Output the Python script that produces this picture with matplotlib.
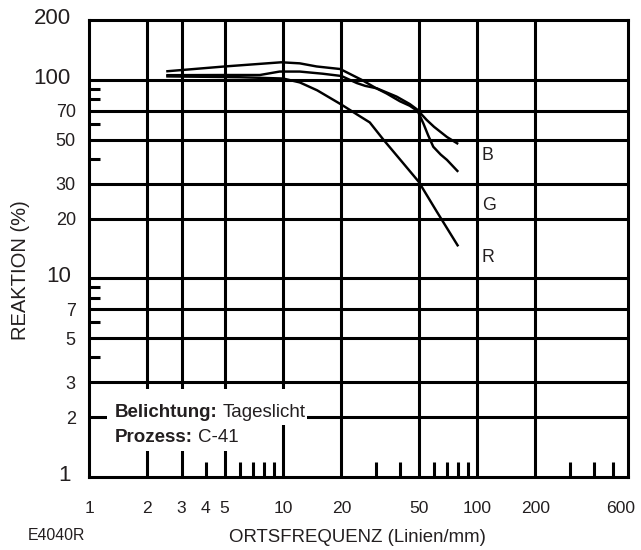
import matplotlib
matplotlib.use("Agg")
import matplotlib.pyplot as plt
from matplotlib.patches import Rectangle
from matplotlib.ticker import NullLocator
from matplotlib.transforms import ScaledTranslation

plt.rcParams['font.family'] = ['Liberation Sans', 'DejaVu Sans']

# ---- data ----
G_x = [2.5, 5, 9.8, 12.2, 14.9, 19.7, 25.4, 30, 34.2, 40, 45, 49.5, 53, 56, 59.5, 65, 70, 80]
G_y = [110.3, 116.7, 122.5, 121, 116.7, 113.3, 100, 91, 85.3, 78, 74, 69.5, 60, 52.5, 46, 42, 39.5, 34.4]

B_x = [2.5, 5, 7.6, 9.6, 12.2, 16, 20, 24, 26.5, 30.4, 38.5, 45, 49, 55, 60, 70, 80]
B_y = [105.5, 105.7, 105.7, 110, 110, 107.3, 104.5, 96.3, 93.2, 90.6, 82.3, 75.5, 71, 62.8, 58, 51.5, 47.5]

R_x = [2.5, 4, 6, 10, 12.2, 15, 20, 24, 28, 33, 41, 50, 62, 80]
R_y = [104, 103.5, 103, 101.5, 97, 88.5, 75, 67, 61, 49.8, 38.7, 30.7, 21.7, 14.5]

curve_names = ['B', 'G', 'R']
curve_label_pos = [(106, 41.8), (106, 23.2), (106, 12.7)]

x_ticklabels = [1, 2, 3, 4, 5, 10, 20, 50, 100, 200, 600]
x_minor_marks = [4, 6, 7, 8, 9, 30, 40, 60, 70, 80, 90, 300, 400, 500]
x_grid = [2, 3, 5, 10, 20, 50, 100, 200]

y_major_labels = [1, 10, 100, 200]
y_minor_labels = [2, 3, 5, 7, 20, 30, 50, 70]
y_minor_marks = [4, 6, 8, 9, 40, 60, 80, 90]
y_grid = [2, 3, 5, 7, 10, 20, 30, 50, 70, 100]

TXT = '#231f20'

fig = plt.figure(figsize=(6.41, 5.50), dpi=100)
ax = fig.add_axes([89/641, 1-477/550, (628-89)/641, (477-20)/550])
ax.set_xscale('log')
ax.set_yscale('log')
ax.set_xlim(1, 600)
ax.set_ylim(1, 200)

for s in ax.spines.values():
    s.set_linewidth(2.2)
    s.set_zorder(5)

# grid
for gx in x_grid:
    ax.axvline(gx, color='black', lw=2.2, zorder=1)
for gy in y_grid:
    ax.axhline(gy, color='black', lw=2.2, zorder=1)

# white box behind annotation text
ax.add_patch(Rectangle((1.238, 1.827), 13.30-1.238, 2.773-1.827,
                       facecolor='white', edgecolor='none', zorder=2))
ax.add_patch(Rectangle((1.238, 1.352), 6.0-1.238, 1.827-1.352,
                       facecolor='white', edgecolor='none', zorder=2))

# curves
for xs, ys in [(B_x, B_y), (G_x, G_y), (R_x, R_y)]:
    ax.plot(xs, ys, color='black', lw=1.75, zorder=3,
            solid_joinstyle='round', solid_capstyle='butt')

for name, (px, py) in zip(curve_names, curve_label_pos):
    ax.text(px, py, name, fontsize=12.8, color=TXT, ha='left', va='center', zorder=6)

# x tick labels
ax.set_xticks(x_ticklabels, [str(v) for v in x_ticklabels])
ax.xaxis.set_minor_locator(NullLocator())
ax.tick_params(axis='x', which='major', length=0, pad=17, labelsize=12.6, labelcolor=TXT)
left = ScaledTranslation(-7/100, 0, fig.dpi_scale_trans)
last = ax.xaxis.get_majorticklabels()[-1]
last.set_transform(last.get_transform() + left)

# y tick labels
ax.set_yticks(y_major_labels, [str(v) for v in y_major_labels])
ax.set_yticks(y_minor_labels, [str(v) for v in y_minor_labels], minor=True)
ax.tick_params(axis='y', which='major', length=0, pad=13.2, labelsize=16, labelcolor=TXT)
ax.tick_params(axis='y', which='minor', length=0, pad=9.5, labelsize=13, labelcolor=TXT)
up = ScaledTranslation(0, 4/100, fig.dpi_scale_trans)
for lab in ax.yaxis.get_majorticklabels():
    lab.set_transform(lab.get_transform() + up)

# short inward tick marks
secx = ax.secondary_xaxis('bottom')
secx.set_xticks(x_minor_marks, ['' for _ in x_minor_marks])
secx.xaxis.set_minor_locator(NullLocator())
secx.tick_params(direction='in', length=10.8, width=2.2, color='black')
secx.spines['bottom'].set_visible(False)

secy = ax.secondary_yaxis('left')
secy.set_yticks(y_minor_marks, ['' for _ in y_minor_marks])
secy.yaxis.set_minor_locator(NullLocator())
secy.tick_params(direction='in', length=7.9, width=2.2, color='black')
secy.spines['left'].set_visible(False)

# annotation text
t1 = ax.text(1.36, 2.0, 'Belichtung:', fontsize=13.5, fontweight='bold', color=TXT,
             ha='left', va='baseline', zorder=6)
ax.annotate('Tageslicht', xy=(1, 0), xycoords=t1, xytext=(3.4, 0),
            textcoords='offset points', fontsize=13.5, color=TXT,
            ha='left', va='bottom', zorder=6)
t2 = ax.text(1.36, 1.506, 'Prozess:', fontsize=13.5, fontweight='bold', color=TXT,
             ha='left', va='baseline', zorder=6)
ax.annotate('C-41', xy=(1, 0), xycoords=t2, xytext=(3.4, 0),
            textcoords='offset points', fontsize=13.5, color=TXT,
            ha='left', va='bottom', zorder=6)

# axis titles
fig.text(357/641, 1-537/550, 'ORTSFREQUENZ (Linien/mm)', fontsize=13.4, color=TXT,
         ha='center', va='center')
fig.text(21/641, 1-270.5/550, 'REAKTION (%)', fontsize=14.5, color=TXT,
         ha='center', va='center', rotation=90)
fig.text(28/641, 1-536/550, 'E4040R', fontsize=11.4, color=TXT, ha='left', va='center')

fig.savefig('out.png', dpi=100)
